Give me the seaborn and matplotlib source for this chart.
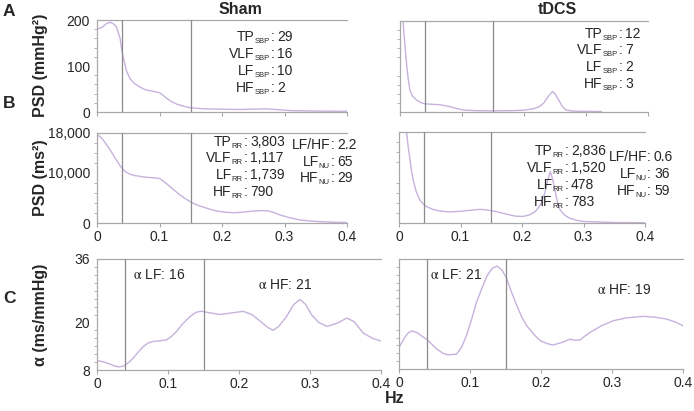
import numpy as np
import pandas as pd
import matplotlib
matplotlib.use("Agg")
import matplotlib.pyplot as plt
from matplotlib.ticker import MultipleLocator, FixedLocator
import seaborn as sns

sns.set_style("white")
plt.rcParams["font.family"] = ["Liberation Sans", "DejaVu Sans"]
plt.rcParams["mathtext.fontset"] = "stix"

CURVE = "#c6b2dc"
SPINE = "#a8a8a8"
VLINE = "#8a8a8a"

# --- data ---
# A: SBP power spectra (mmHg^2)
a_sham_hz  = [0.0, 0.008, 0.015, 0.021, 0.027, 0.031, 0.037, 0.04, 0.047, 0.053, 0.06,
              0.069, 0.078, 0.09, 0.1, 0.105, 0.111, 0.12, 0.128, 0.14, 0.15, 0.17,
              0.2, 0.23, 0.26, 0.27, 0.29, 0.31, 0.35, 0.4]
a_sham_psd = [180, 184, 192, 195, 191, 185, 160, 131, 90, 72, 62,
              54, 48, 45, 42, 37, 30, 22, 17, 12, 9, 7,
              6, 5.5, 6.5, 7, 5, 3, 2, 1.5]
a_tdcs_hz  = [0.003, 0.006, 0.009, 0.011, 0.013, 0.016, 0.02, 0.027, 0.033, 0.04, 0.05,
              0.064, 0.072, 0.08, 0.09, 0.1, 0.107, 0.12, 0.15, 0.18, 0.2, 0.215,
              0.225, 0.232, 0.24, 0.246, 0.25, 0.256, 0.262, 0.267, 0.275, 0.29, 0.325]
a_tdcs_psd = [230, 180, 130, 100, 75, 48, 35, 26, 21, 18, 17,
              16, 14, 12, 8, 5, 4, 3, 2.5, 3, 4, 7,
              12, 20, 36, 45, 40, 26, 12, 5, 2.5, 1.5, 1]

# B: RR power spectra (ms^2)
b_sham_hz  = [0.0, 0.005, 0.01, 0.015, 0.021, 0.03, 0.038, 0.045, 0.052, 0.06, 0.07,
              0.08, 0.09, 0.1, 0.107, 0.117, 0.125, 0.133, 0.141, 0.149, 0.16, 0.176,
              0.19, 0.205, 0.22, 0.235, 0.25, 0.265, 0.275, 0.285, 0.293, 0.31, 0.325,
              0.34, 0.357, 0.38, 0.4]
b_sham_psd = [17600, 17300, 16600, 15700, 14600, 12800, 11270, 10300, 9800, 9500, 9300,
              9130, 9050, 8900, 8300, 7270, 6400, 5600, 4900, 4270, 3600, 2930,
              2450, 2150, 2050, 2200, 2400, 2480, 2400, 2000, 1600, 1000, 600,
              400, 270, 150, 100]
b_tdcs_hz  = [0.0125, 0.015, 0.018, 0.02, 0.023, 0.028, 0.034, 0.04, 0.045, 0.055, 0.065,
              0.08, 0.099, 0.115, 0.132, 0.145, 0.16, 0.17, 0.18, 0.19, 0.202, 0.212,
              0.222, 0.23, 0.237, 0.242, 0.246, 0.25, 0.254, 0.258, 0.262, 0.27, 0.278,
              0.29, 0.3, 0.35, 0.4]
b_tdcs_psd = [17800, 15000, 12500, 10500, 8500, 6200, 4550, 3700, 3230, 2700, 2400,
              2200, 2300, 2500, 2700, 2550, 2200, 1900, 1600, 1350, 1300, 1600,
              2300, 3600, 5880, 8500, 10160, 8600, 6200, 4000, 2570, 1500, 930,
              500, 300, 100, 50]

# C: baroreflex gain alpha (ms/mmHg)
c_sham_hz    = [0.0, 0.01, 0.018, 0.025, 0.03, 0.036, 0.04, 0.046, 0.051, 0.058, 0.065,
                0.072, 0.079, 0.09, 0.098, 0.105, 0.112, 0.12, 0.131, 0.14, 0.147, 0.16,
                0.173, 0.19, 0.206, 0.218, 0.23, 0.24, 0.248, 0.256, 0.267, 0.277, 0.286,
                0.294, 0.302, 0.312, 0.324, 0.338, 0.352, 0.362, 0.375, 0.388, 0.4]
c_sham_alpha = [10.4, 10.0, 9.5, 9.0, 8.8, 8.9, 9.3, 10.1, 11.0, 12.5, 13.9,
                14.8, 15.2, 15.4, 15.6, 16.5, 17.7, 19.5, 21.5, 22.6, 22.8, 22.4,
                22.0, 22.4, 22.8, 22.0, 20.3, 18.8, 18.0, 19.0, 21.5, 24.5, 25.8,
                24.5, 22.0, 20.0, 19.0, 19.8, 21.1, 20.2, 17.3, 16.0, 15.3]
c_tdcs_hz    = [0.0, 0.008, 0.013, 0.018, 0.025, 0.032, 0.04, 0.053, 0.062, 0.069, 0.076,
                0.081, 0.088, 0.095, 0.102, 0.109, 0.117, 0.124, 0.131, 0.138, 0.145,
                0.151, 0.158, 0.166, 0.173, 0.18, 0.19, 0.199, 0.208, 0.217, 0.23, 0.241,
                0.248, 0.255, 0.262, 0.269, 0.285, 0.302, 0.32, 0.344, 0.36, 0.377,
                0.39, 0.4]
c_tdcs_alpha = [13.5, 16.0, 17.2, 17.7, 17.3, 16.4, 15.4, 13.1, 12.0, 11.6, 11.7,
                11.8, 13.5, 16.5, 20.5, 24.9, 28.7, 31.7, 33.6, 34.2, 33.2,
                31.3, 27.8, 24.1, 21.2, 19.0, 16.8, 15.2, 14.5, 14.1, 14.8, 15.6,
                15.3, 15.4, 16.4, 17.3, 19.0, 20.3, 21.0, 21.4, 21.2, 20.7,
                19.9, 19.0]

band_edges = [0.04, 0.15]

a_sham_stats = [("TP", "SBP", "29"), ("VLF", "SBP", "16"), ("LF", "SBP", "10"), ("HF", "SBP", "2")]
a_tdcs_stats = [("TP", "SBP", "12"), ("VLF", "SBP", "7"), ("LF", "SBP", "2"), ("HF", "SBP", "3")]
b_sham_stats = [("TP", "RR", "3,803"), ("VLF", "RR", "1,117"), ("LF", "RR", "1,739"), ("HF", "RR", "790")]
b_tdcs_stats = [("TP", "RR", "2,836"), ("VLF", "RR", "1,520"), ("LF", "RR", "478"), ("HF", "RR", "783")]
b_sham_ratio = [("LF/HF", "", "2.2"), ("LF", "NU", "65"), ("HF", "NU", "29")]
b_tdcs_ratio = [("LF/HF", "", "0.6"), ("LF", "NU", "36"), ("HF", "NU", "59")]
c_sham_text = ["LF: 16", "HF: 21"]
c_tdcs_text = ["LF: 21", "HF: 19"]

W, H = 694, 411
fig = plt.figure(figsize=(W / 100, H / 100), dpi=100)


def add_ax(x0, x1, top, bottom):
    return fig.add_axes([x0 / W, 1 - bottom / H, (x1 - x0) / W, (bottom - top) / H])


def style(ax, ylim, yticks, minor, labels_x, labels_y):
    ax.set_xlim(0, 0.4)
    ax.set_ylim(*ylim)
    ax.xaxis.set_major_locator(FixedLocator([0, 0.1, 0.2, 0.3, 0.4]))
    ax.yaxis.set_major_locator(FixedLocator(yticks))
    ax.yaxis.set_minor_locator(MultipleLocator(minor))
    for s in ["top", "right"]:
        ax.spines[s].set_visible(False)
    for s in ["left", "bottom"]:
        ax.spines[s].set_color(SPINE)
        ax.spines[s].set_linewidth(0.9)
    ax.axhline(ylim[1], color=SPINE, lw=0.9, clip_on=False)
    ax.tick_params(axis="both", which="major", direction="out", length=3,
                   width=0.8, color=SPINE, labelsize=10, pad=2)
    ax.tick_params(axis="y", which="minor", direction="out", length=2,
                   width=0.6, color=SPINE, left=True)
    ax.tick_params(axis="x", bottom=True)
    if labels_x:
        ax.set_xticklabels(["0", "0.1", "0.2", "0.3", "0.4"])
    else:
        ax.set_xticklabels([])
    if labels_y:
        ax.set_yticklabels(labels_y)
    else:
        ax.set_yticklabels([])
    ax.set_xlabel("")
    ax.set_ylabel("")
    for x in band_edges:
        ax.axvline(x, color=VLINE, lw=0.9)


def curve(ax, hz, vals):
    df = pd.DataFrame({"hz": hz, "v": vals})
    sns.lineplot(data=df, x="hz", y="v", ax=ax, color=CURVE, lw=1.0, sort=False)


def stats(ax, colon_x, ys, rows):
    # "NAME", small subscript, ":" then the value; colon anchored at colon_x
    for (name, sub, val), y in zip(rows, ys):
        colon = fig.text(colon_x / W, 1 - y / H, ":", ha="right", va="center", fontsize=10)
        fig.text((colon_x + 3) / W, 1 - y / H, val, ha="left", va="center", fontsize=10)
        anchor = colon
        if sub:
            anchor = ax.annotate(sub, xy=(0, 0), xycoords=colon, xytext=(-0.3, -0.6),
                                 textcoords="offset points", ha="right", va="bottom",
                                 fontsize=5.5, annotation_clip=False)
        ax.annotate(name, xy=(0, 0.5), xycoords=(anchor, colon), ha="right", va="center",
                    fontsize=10, annotation_clip=False)


def alpha_text(x, y, txt):
    fig.text(x / W, 1 - y / H, r"$\mathrm{\alpha}$ " + txt, ha="left", va="center", fontsize=10)


# row A
ax = add_ax(97, 347, 20, 112)
curve(ax, a_sham_hz, a_sham_psd)
style(ax, (0, 200), [0, 100, 200], 20, False, ["0", "100", "200"])
stats(ax, 274, [37, 54, 71, 88], a_sham_stats)

ax = add_ax(400, 648, 21, 112)
curve(ax, a_tdcs_hz, a_tdcs_psd)
style(ax, (0, 200), [0, 100, 200], 20, False, None)
stats(ax, 622, [34, 50, 67, 84], a_tdcs_stats)

# row B
ax = add_ax(97, 347, 133, 223)
curve(ax, b_sham_hz, b_sham_psd)
style(ax, (0, 18000), [0, 10000, 18000], 2000, True, ["0", "10,000", "18,000"])
stats(ax, 247, [142, 158, 175, 192], b_sham_stats)
stats(ax, 334, [145, 162, 178], b_sham_ratio)

ax = add_ax(399, 645, 132, 223)
curve(ax, b_tdcs_hz, b_tdcs_psd)
style(ax, (0, 18000), [0, 10000, 18000], 2000, True, None)
stats(ax, 568, [151, 168, 185, 202], b_tdcs_stats)
stats(ax, 651, [157, 174, 191], b_tdcs_ratio)

# row C
ax = add_ax(97, 381, 259, 370)
curve(ax, c_sham_hz, c_sham_alpha)
style(ax, (8, 36), [8, 20, 36], 2, True, ["8", "20", "36"])
alpha_text(133, 275, c_sham_text[0])
alpha_text(258, 285, c_sham_text[1])

ax = add_ax(399, 683, 259, 369)
curve(ax, c_tdcs_hz, c_tdcs_alpha)
style(ax, (8, 36), [8, 20, 36], 2, True, None)
alpha_text(430, 275, c_tdcs_text[0])
alpha_text(597, 290, c_tdcs_text[1])

# labels
fig.text(240 / W, 1 - 9 / H, "Sham", ha="center", va="center", fontsize=11.5, fontweight="bold")
fig.text(557 / W, 1 - 10 / H, "tDCS", ha="center", va="center", fontsize=11.5, fontweight="bold")
for letter, y in [("A", 12), ("B", 104), ("C", 298)]:
    fig.text(3 / W, 1 - y / H, letter, ha="left", va="center", fontsize=12.5, fontweight="bold")
fig.text(41 / W, 1 - 65 / H, "PSD (mmHg²)", rotation=90, ha="center",
         va="center", fontsize=11.5, fontweight="bold")
fig.text(41 / W, 1 - 178 / H, "PSD (ms²)", rotation=90, ha="center",
         va="center", fontsize=11.5, fontweight="bold")
fig.text(41 / W, 1 - 315 / H, "α (ms/mmHg)", rotation=90, ha="center",
         va="center", fontsize=11.5, fontweight="bold")
fig.text(395 / W, 1 - 398 / H, "Hz", ha="center", va="center", fontsize=11.5, fontweight="bold")

fig.savefig("out.png", dpi=100)
